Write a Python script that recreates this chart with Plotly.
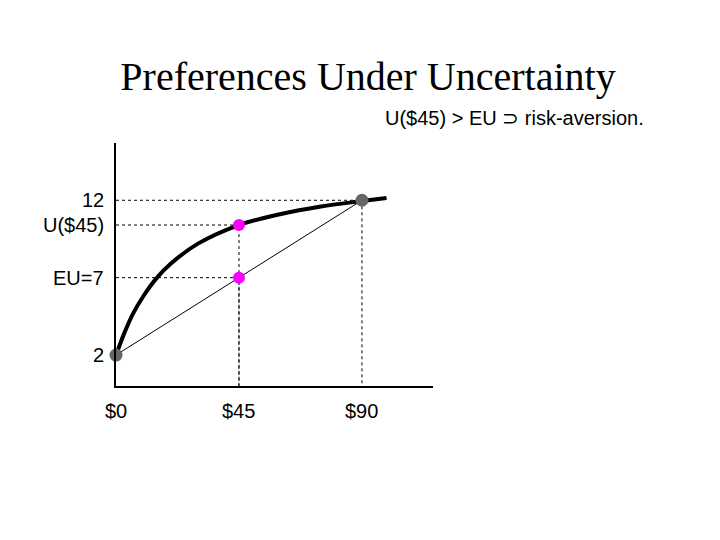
import plotly.graph_objects as go

curve_x = [0, 3, 6, 10, 15, 20, 30, 45, 60, 75, 90, 99]
curve_y = [2, 3.4, 4.6, 5.8, 7.0, 7.9, 9.2, 10.4, 11.1, 11.6, 11.95, 12.15]
wealth = [0, 45, 90]
utility = [2, 10.4, 12]
eu_x = [45]
eu_y = [7]
x_labels = ["$0", "$45", "$90"]

fig = go.Figure()
dot = dict(color="black", width=1, dash="dot")
for xv, yv in [(wealth[1], utility[1]), (eu_x[0], eu_y[0]), (wealth[2], utility[2])]:
    fig.add_trace(go.Scatter(x=[0, xv, xv], y=[yv, yv, 0], mode="lines", line=dot))
fig.add_trace(go.Scatter(x=curve_x, y=curve_y, mode="lines", line=dict(color="black", width=4, shape="spline")))
fig.add_trace(go.Scatter(x=[wealth[0], wealth[2]], y=[utility[0], utility[2]], mode="lines", line=dict(color="black", width=1)))
fig.add_trace(go.Scatter(x=[wealth[0], wealth[2]], y=[utility[0], utility[2]], mode="markers",
                         marker=dict(color="#666666", size=13), cliponaxis=False))
fig.add_trace(go.Scatter(x=[wealth[1]] + eu_x, y=[utility[1]] + eu_y, mode="markers",
                         marker=dict(color="#ff00ff", size=12)))

ann = []
f = dict(family="Liberation Sans, Arial", size=20, color="black")
for t, yv in [("12", 12), ("U($45)", utility[1]), ("EU=7", eu_y[0]), ("2", 2)]:
    ann.append(dict(x=0, y=yv, xref="x", yref="y", text=t, showarrow=False, xanchor="right", xshift=-10, font=f))
for t, xv in zip(x_labels + ["Wealth"], wealth + [135]):
    ann.append(dict(x=xv, y=0, xref="x", yref="y", text=t, showarrow=False, yanchor="top", yshift=-12, font=f))
ann.append(dict(x=1.0, y=1.0, xref="paper", yref="paper", text="U($45) > EU ⊃ risk-aversion.",
                showarrow=False, xanchor="left", yanchor="bottom", xshift=-50, yshift=12, font=f))
fig.update_layout(
    width=720, height=540, showlegend=False, plot_bgcolor="white", paper_bgcolor="white",
    margin=dict(l=108, r=295, t=135, b=162), annotations=ann,
    title=dict(text="Preferences Under Uncertainty", x=0.5, xref="container", y=0.874, yref="container",
               xanchor="center", yanchor="middle",
               font=dict(family="Liberation Serif, Times New Roman", size=40, color="black")),
    xaxis=dict(range=[0, 116], showgrid=False, zeroline=False, showticklabels=False,
               showline=True, linecolor="black", linewidth=2),
    yaxis=dict(range=[0, 15.7], showgrid=False, zeroline=False, showticklabels=False,
               showline=True, linecolor="black", linewidth=2),
)
fig.write_html("out.html")
